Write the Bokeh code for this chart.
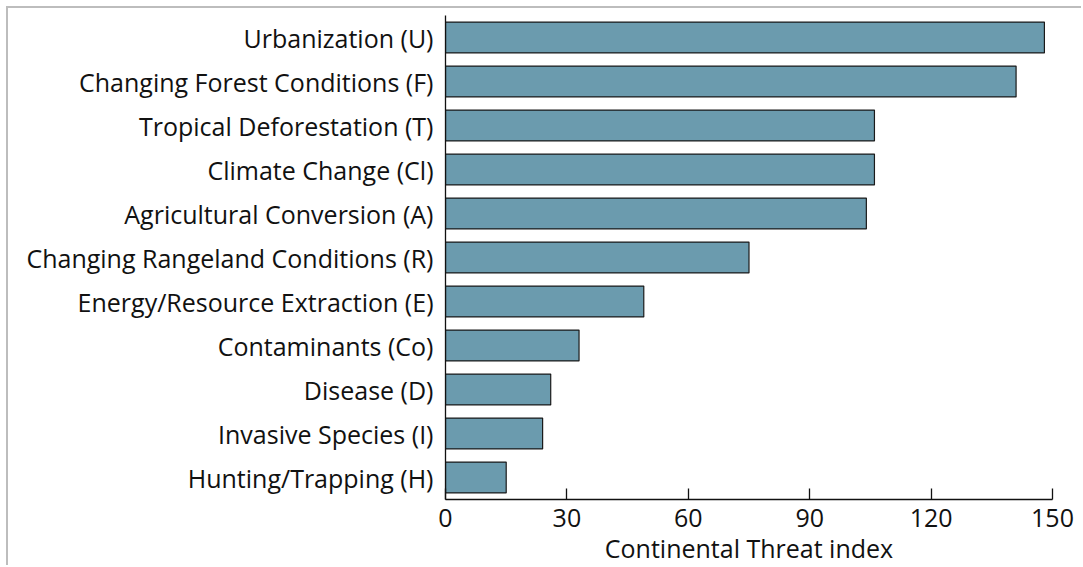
from bokeh.plotting import figure
from bokeh.models import Range1d, FixedTicker
from bokeh.embed import file_html
from bokeh.resources import INLINE

categories = [
    "Urbanization (U)",
    "Changing Forest Conditions (F)",
    "Tropical Deforestation (T)",
    "Climate Change (Cl)",
    "Agricultural Conversion (A)",
    "Changing Rangeland Conditions (R)",
    "Energy/Resource Extraction (E)",
    "Contaminants (Co)",
    "Disease (D)",
    "Invasive Species (I)",
    "Hunting/Trapping (H)",
]
values = [148, 141, 106, 106, 104, 75, 49, 33, 26, 24, 15]
x_ticks = [0, 30, 60, 90, 120, 150]

FONT = "Open Sans"
FS = "25px"

p = figure(
    y_range=list(reversed(categories)),
    x_range=Range1d(0, 150),
    width=1075, height=559,
    output_backend="svg", toolbar_location=None,
    min_border_left=437, min_border_right=31,
    min_border_top=7, min_border_bottom=67,
)
p.hbar(y=categories, right=values, left=0, height=0.7,
       fill_color="#6b9bae", line_color="#1a1a1a", line_width=1.2)

p.xgrid.visible = False
p.ygrid.visible = False
p.outline_line_color = None
p.background_fill_color = "white"
p.border_fill_color = "white"

xa = p.xaxis[0]
xa.ticker = FixedTicker(ticks=x_ticks)
xa.axis_label = "Continental Threat index"
xa.axis_label_text_font = FONT
xa.axis_label_text_font_size = FS
xa.axis_label_text_font_style = "normal"
xa.axis_label_text_color = "#111111"
xa.axis_label_standoff = 1
xa.major_label_text_font = FONT
xa.major_label_text_font_size = FS
xa.major_label_text_color = "#111111"
xa.major_label_standoff = 9
xa.major_tick_in = 11
xa.major_tick_out = 0
xa.minor_tick_line_color = None
xa.axis_line_color = "#111111"
xa.axis_line_width = 1.3
xa.major_tick_line_color = "#111111"
xa.major_tick_line_width = 1.3

ya = p.yaxis[0]
ya.major_label_text_font = FONT
ya.major_label_text_font_size = FS
ya.major_label_text_color = "#111111"
ya.major_label_standoff = 12
ya.major_tick_line_color = None
ya.major_tick_in = 0
ya.major_tick_out = 0
ya.minor_tick_line_color = None
ya.axis_line_color = "#111111"
ya.axis_line_width = 1.3

p.styles = {"border-top": "2px solid #bdbdbd", "border-left": "2px solid #bdbdbd",
            "margin-left": "6px", "margin-top": "6px"}

open("out.html", "w").write(file_html(p, INLINE))
